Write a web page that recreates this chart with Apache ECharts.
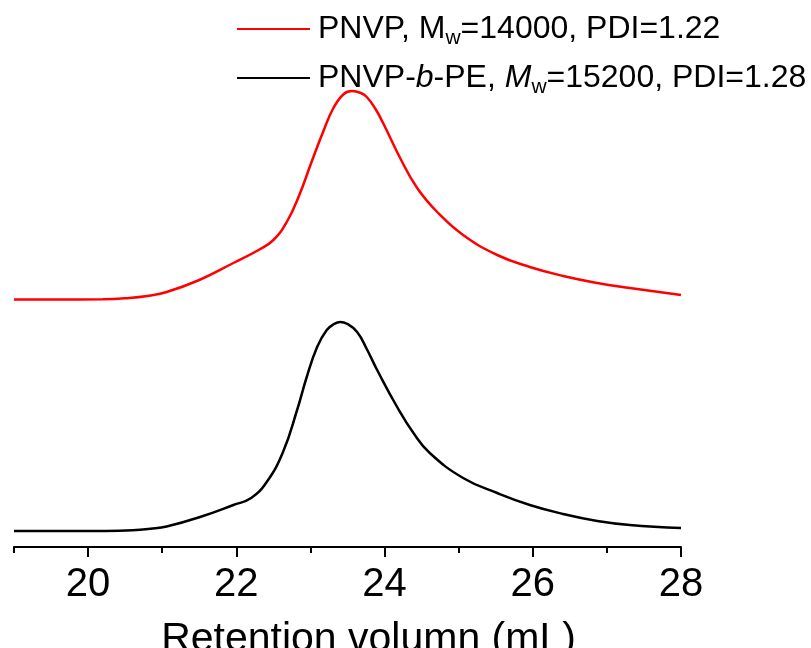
<!DOCTYPE html>
<html>
<head>
<meta charset="utf-8">
<script src="https://cdn.jsdelivr.net/npm/echarts@6/dist/echarts.min.js"></script>
<style>
  html, body { margin: 0; padding: 0; background: #fff; }
  #chart { width: 811px; height: 648px; }
</style>
</head>
<body>
<div id="chart"></div>
<script>
// GPC traces: retention volume (mL) vs. normalised detector response (offset for clarity)
const pnvpVolume = [19.0, 19.6, 20.2, 20.5, 20.8, 21.06, 21.5, 21.96, 22.3, 22.5, 22.68, 22.85, 23.0, 23.17, 23.31, 23.45, 23.56, 23.68, 23.76, 23.87, 23.98, 24.21, 24.44, 24.71, 25.06, 25.52, 25.96, 26.41, 26.87, 27.31, 28.0];
const pnvpSignal = [0.495, 0.495, 0.4955, 0.4975, 0.502, 0.510, 0.534, 0.568, 0.594, 0.614, 0.650, 0.704, 0.764, 0.830, 0.878, 0.906, 0.912, 0.908, 0.900, 0.878, 0.848, 0.778, 0.718, 0.670, 0.624, 0.584, 0.560, 0.542, 0.528, 0.518, 0.504];

const blockVolume = [19.0, 19.6, 20.2, 20.6, 20.84, 21.06, 21.51, 21.96, 22.2, 22.41, 22.63, 22.82, 22.95, 23.09, 23.22, 23.32, 23.4, 23.5, 23.63, 23.76, 23.9, 24.17, 24.39, 24.61, 25.06, 25.52, 25.96, 26.41, 26.87, 27.31, 28.0];
const blockSignal = [0.032, 0.032, 0.0322, 0.0335, 0.0365, 0.041, 0.060, 0.084, 0.098, 0.130, 0.190, 0.274, 0.340, 0.400, 0.434, 0.446, 0.450, 0.446, 0.430, 0.396, 0.354, 0.280, 0.228, 0.188, 0.138, 0.108, 0.084, 0.066, 0.052, 0.044, 0.038];

const majorTicks = [20, 22, 24, 26, 28];
const seriesNames = ['PNVP', 'PNVP-b-PE'];
const legendLabels = [
  'PNVP, M{sub|w}=14000, PDI=1.22',
  'PNVP-{it|b}-PE, {it|M}{sub|w}=15200, PDI=1.28'
];
const axisTitle = 'Retention volumn (mL)';

const FONT = '"Liberation Sans", Arial, sans-serif';

function pairs(xs, ys) { return xs.map((x, i) => [x, ys[i]]); }

const chart = echarts.init(document.getElementById('chart'), null, { renderer: 'canvas' });

const legendRich = {
  sub: { fontFamily: FONT, fontSize: 21, color: '#000', padding: [19, 0, 0, 0] },
  it: { fontFamily: FONT, fontSize: 32, fontStyle: 'italic', color: '#000' }
};

function makeLegend(idx, top) {
  return {
    data: [seriesNames[idx]],
    left: 237,
    top: top,
    orient: 'vertical',
    icon: 'rect',
    itemWidth: 73,
    itemHeight: 2,
    itemGap: 0,
    padding: 0,
    selectedMode: false,
    textStyle: {
      fontFamily: FONT,
      fontSize: 32,
      color: '#000',
      padding: [0, 0, 0, 3],
      rich: legendRich
    },
    formatter: () => legendLabels[idx]
  };
}

chart.setOption({
  animation: false,
  backgroundColor: '#fff',
  legend: [makeLegend(0, 13), makeLegend(1, 62)],
  grid: { left: 14, right: 130, top: 47, bottom: 101, containLabel: false, outerBoundsMode: 'none' },
  xAxis: [
    {
      type: 'value',
      min: 19,
      max: 28,
      interval: 1,
      axisLine: { show: true, onZero: false, lineStyle: { color: '#000', width: 2 } },
      axisTick: { show: true, inside: false, length: 6, lineStyle: { color: '#000', width: 2 } },
      splitLine: { show: false },
      axisLabel: {
        customValues: majorTicks,
        margin: 18,
        fontFamily: FONT,
        fontSize: 40,
        color: '#000'
      },
      name: axisTitle,
      nameLocation: 'middle',
      nameGap: 72,
      nameTextStyle: {
        fontFamily: FONT,
        fontSize: 41,
        color: '#000',
        padding: [0, 0, 0, 42]
      }
    },
    {
      type: 'value',
      min: 19,
      max: 28,
      interval: 1,
      position: 'bottom',
      axisLine: { show: false },
      axisTick: { show: true, inside: false, length: 10, customValues: majorTicks, lineStyle: { color: '#000', width: 2 } },
      axisLabel: { show: false },
      splitLine: { show: false }
    }
  ],
  yAxis: {
    type: 'value',
    min: 0,
    max: 1,
    show: false
  },
  series: [
    {
      name: seriesNames[0],
      type: 'line',
      data: pairs(pnvpVolume, pnvpSignal),
      showSymbol: false,
      smooth: 0.45,
      lineStyle: { color: '#ff0000', width: 2.5 },
      itemStyle: { color: '#ff0000' }
    },
    {
      name: seriesNames[1],
      type: 'line',
      data: pairs(blockVolume, blockSignal),
      showSymbol: false,
      smooth: 0.45,
      lineStyle: { color: '#000000', width: 2.5 },
      itemStyle: { color: '#000000' }
    }
  ]
});
</script>
</body>
</html>
